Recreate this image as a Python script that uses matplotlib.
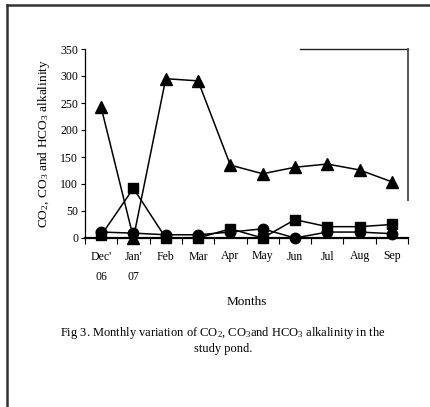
import matplotlib
matplotlib.use("Agg")
import matplotlib.pyplot as plt
from matplotlib.lines import Line2D
import numpy as np

plt.rcParams['font.family'] = ['Liberation Serif', 'DejaVu Serif']
plt.rcParams['mathtext.fontset'] = 'custom'
plt.rcParams['mathtext.rm'] = 'Liberation Serif'
plt.rcParams['mathtext.it'] = 'Liberation Serif:italic'

months = ["Dec'\n06", "Jan'\n07", "Feb", "Mar", "Apr", "May", "Jun", "Jul", "Aug", "Sep"]
hco3 = [242, 0, 295, 291, 135, 119, 131, 137, 126, 104]
co3 = [5, 92, 0, 0, 17, 0, 34, 21, 21, 25]
co2 = [11, 9, 6, 6, 11, 17, 0, 11, 11, 8]
yticks = [0, 50, 100, 150, 200, 250, 300, 350]

W, H = 430, 407
fig = plt.figure(figsize=(W / 100, H / 100), dpi=100)
ax = fig.add_axes([85 / W, 1 - 238 / H, (408 - 85) / W, (238 - 49) / H])

x = np.arange(len(months))
ax.plot(x, hco3, color='black', lw=1.1, marker='^', ms=8.5, clip_on=False, zorder=3)
ax.plot(x, co3, color='black', lw=1.1, marker='s', ms=7.2, clip_on=False, zorder=3)
ax.plot(x, co2, color='black', lw=1.1, marker='o', ms=7.5, clip_on=False, zorder=3)

ax.set_xlim(-0.5, len(months) - 0.5)
ax.set_ylim(0, 350)
ax.set_yticks(yticks)
ax.set_yticklabels([str(v) for v in yticks], fontsize=8.5)
ax.set_xticks(x)
ax.set_xticklabels(months, fontsize=8.5, linespacing=1.9, va='top')
ax.set_xticks(np.arange(-0.5, len(months), 1.0), minor=True)
ax.tick_params(axis='x', which='major', length=0, pad=9)
ax.tick_params(axis='x', which='minor', length=4, direction='out', width=0.8)
ax.tick_params(axis='y', which='major', length=3, direction='out', width=0.8, pad=2)
for s in ['top', 'right']:
    ax.spines[s].set_visible(False)
ax.spines['left'].set_linewidth(0.9)
ax.spines['bottom'].set_linewidth(1.6)

ax.set_ylabel(r'CO$_2$, CO$_3$ and HCO$_3$ alkalinity', fontsize=9.6, labelpad=6)

fig.text(247 / W, 1 - 302 / H, 'Months', ha='center', va='center', fontsize=9.5)
fig.text(223 / W, 1 - 333 / H,
         r'Fig 3. Monthly variation of CO$_2$, CO$_3$and HCO$_3$ alkalinity in the',
         ha='center', va='center', fontsize=9)
fig.text(223 / W, 1 - 349 / H, 'study pond.', ha='center', va='center', fontsize=9)

# page frame lines
def fline(x0, y0, x1, y1, lw=1.8, c='#333333'):
    fig.add_artist(Line2D([x0 / W, x1 / W], [1 - y0 / H, 1 - y1 / H],
                          transform=fig.transFigure, color=c, lw=lw))

fline(7, 5, W, 5)
fline(7, 5, 7, H)
fline(300, 49, 408, 49, lw=1.0, c='#222222')
fline(408, 49, 408, 200, lw=1.4, c='#555555')

fig.savefig('out.png', dpi=100)
